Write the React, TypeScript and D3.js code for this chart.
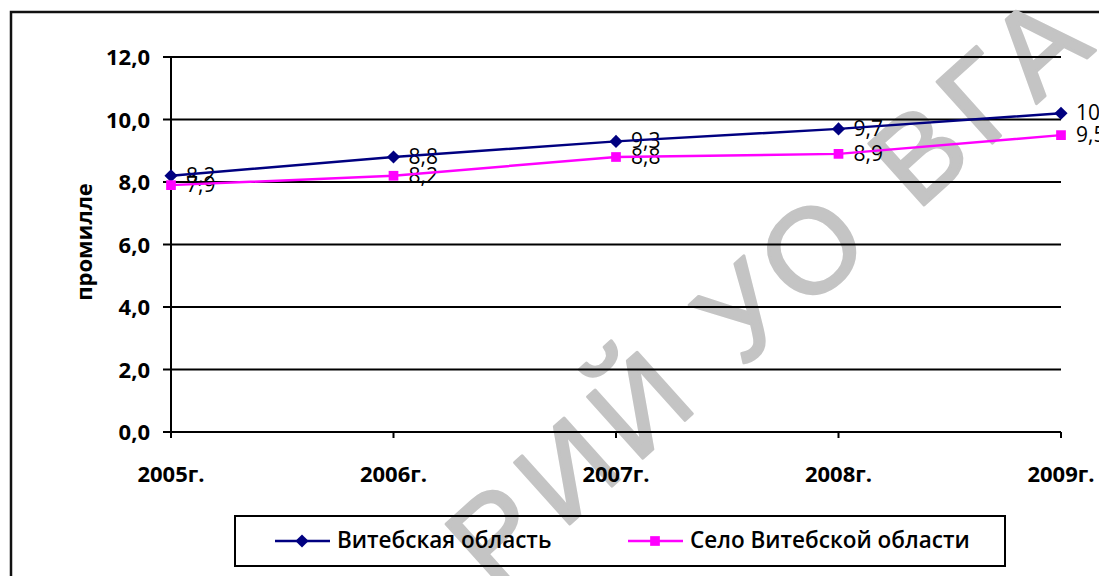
import React from 'react';
import * as d3 from 'd3';

const years = ['2005г.', '2006г.', '2007г.', '2008г.', '2009г.'];
const vitebskRegion = [8.2, 8.8, 9.3, 9.7, 10.2];
const vitebskVillage = [7.9, 8.2, 8.8, 8.9, 9.5];
const yTicks = [0, 2, 4, 6, 8, 10, 12];
const seriesNames = ['Витебская область', 'Село Витебской области'];
const watermark = 'РИЙ УО ВГАУ';

const W = 1099;
const H = 576;
const font = '"Open Sans", "Noto Sans", sans-serif';
const blue = '#000080';
const pink = '#ff00ff';

const fmt = (v: number) => v.toFixed(1).replace('.', ',');

export default function App() {
  const x = d3.scalePoint<string>().domain(years).range([171, 1061]);
  const y = d3.scaleLinear().domain([0, 12]).range([432, 57]);

  const line = d3
    .line<number>()
    .x((_, i) => x(years[i]) as number)
    .y(d => y(d));

  const diamond = d3.symbol().type(d3.symbolDiamond2).size(110)();
  const square = d3.symbol().type(d3.symbolSquare2).size(120)();

  const series = [
    {name: seriesNames[0], values: vitebskRegion, color: blue, marker: diamond},
    {name: seriesNames[1], values: vitebskVillage, color: pink, marker: square},
  ];

  const [x0, x1] = x.range();

  return (
    <svg
      width={W}
      height={H}
      style={{position: 'absolute', left: 0, top: 0, background: '#fff'}}
      fontFamily={font}
    >
      <rect x={11} y={12} width={W + 20} height={H + 20} fill="#fff" stroke="#111" strokeWidth={2.5} />

      {/* watermark, sits under the chart */}
      <text
        transform="translate(494,592) rotate(-42)"
        fontFamily='"Liberation Sans", Arial, sans-serif'
        fontSize={120}
        letterSpacing={12}
        fill="#c4c4c4"
        stroke="#c4c4c4"
        strokeWidth={3}
        strokeLinejoin="round"
      >
        {watermark}
      </text>

      {/* grid + y axis */}
      {yTicks.map(t => (
        <g key={t}>
          <line x1={163} x2={x1} y1={y(t)} y2={y(t)} stroke="#000" strokeWidth={2} />
          <text x={150} y={y(t) + 8} textAnchor="end" fontSize={22} fontWeight={700}>
            {fmt(t)}
          </text>
        </g>
      ))}
      <line x1={x0} x2={x0} y1={y(12)} y2={y(0) + 6} stroke="#000" strokeWidth={2} />
      {years.map(yr => (
        <g key={yr}>
          <line x1={x(yr)} x2={x(yr)} y1={y(0)} y2={y(0) + 6} stroke="#000" strokeWidth={2} />
          <text x={x(yr)} y={482} textAnchor="middle" fontSize={22} fontWeight={700}>
            {yr}
          </text>
        </g>
      ))}
      <text transform="translate(92,242) rotate(-90)" textAnchor="middle" fontSize={22} fontWeight={700}>
        промилле
      </text>

      {/* data labels (lines are drawn over them) */}
      {series.map(s =>
        s.values.map((v, i) => (
          <text key={s.name + i} x={(x(years[i]) as number) + 15} y={y(v) + 7} fontSize={21} fill="#000">
            {fmt(v)}
          </text>
        ))
      )}

      {/* series */}
      {series.map(s => (
        <g key={s.name}>
          <path d={line(s.values) as string} fill="none" stroke={s.color} strokeWidth={2.5} />
          {s.values.map((v, i) => (
            <path key={i} d={s.marker as string} transform={`translate(${x(years[i])},${y(v)})`} fill={s.color} />
          ))}
        </g>
      ))}

      {/* legend */}
      <rect x={235} y={516} width={770} height={50} fill="none" stroke="#000" strokeWidth={2} />
      {series.map((s, i) => {
        const lx = i === 0 ? 275 : 628;
        return (
          <g key={s.name}>
            <line x1={lx} x2={lx + 55} y1={541} y2={541} stroke={s.color} strokeWidth={2.5} />
            <path d={s.marker as string} transform={`translate(${lx + 27},541)`} fill={s.color} />
            <text x={lx + 62} y={548} fontSize={22.5} fontWeight={600}>
              {s.name}
            </text>
          </g>
        );
      })}
    </svg>
  );
}
